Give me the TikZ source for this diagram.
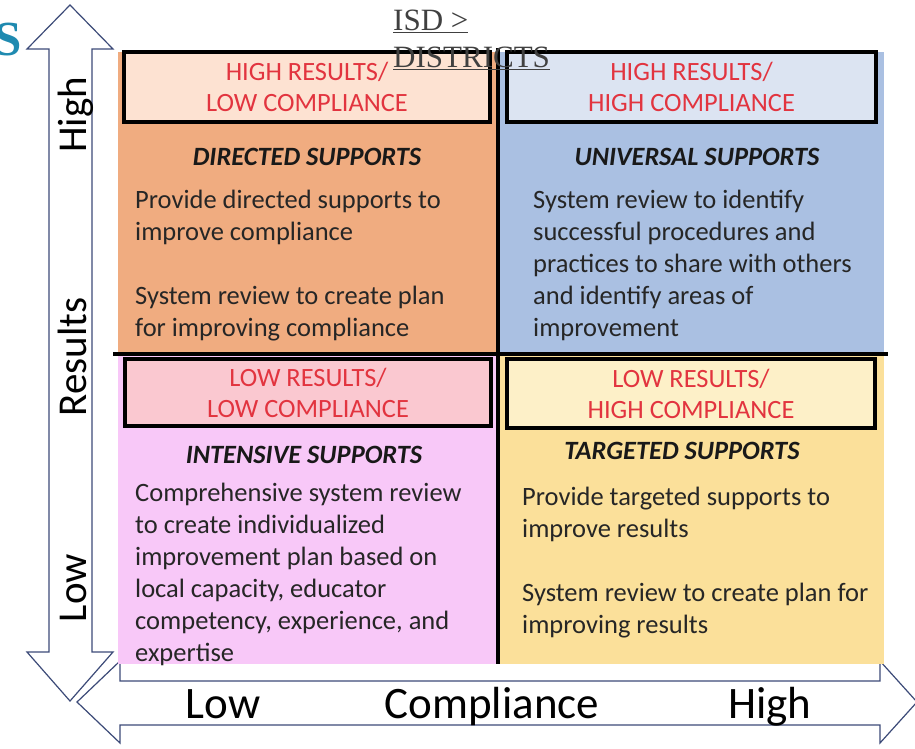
\documentclass[tikz,border=0pt]{standalone}
\usepackage{fontspec}
\setmainfont{Carlito}
\newfontfamily\serifish{Liberation Serif}
\definecolor{arrowline}{HTML}{3C4A78}
\definecolor{redtxt}{HTML}{E2343F}
\definecolor{bodyink}{HTML}{262626}
\definecolor{tlbody}{HTML}{F0AC80}
\definecolor{tlhead}{HTML}{FDE2D2}
\definecolor{trbody}{HTML}{AAC0E2}
\definecolor{trhead}{HTML}{DCE4F2}
\definecolor{blbody}{HTML}{F8C8F8}
\definecolor{blhead}{HTML}{FAC8D0}
\definecolor{brbody}{HTML}{FBE09A}
\definecolor{brhead}{HTML}{FDF0C8}
\definecolor{isdgray}{HTML}{404040}
\definecolor{steal}{HTML}{1F8AB0}
\begin{document}
\begin{tikzpicture}[x=1pt,y=-1pt,
  bigarrow/.style={draw=arrowline,fill=white,line width=1.2pt,line join=miter},
  hdr/.style={draw=black,line width=4pt,text=redtxt,align=center,inner sep=0pt,
    font=\fontsize{26.4}{31}\selectfont},
  ttl/.style={inner sep=0pt,text=black!90,font=\fontsize{26.4}{32}\selectfont\bfseries\itshape},
  bodytxt/.style={inner sep=0pt,align=left,text=bodyink,font=\fontsize{26.5}{32}\selectfont},
  yaxl/.style={inner sep=0pt,rotate=90,anchor=base,text=black,font=\fontsize{41}{48}\selectfont},
  xaxl/.style={inner sep=0pt,anchor=base,text=black,font=\fontsize{45}{52}\selectfont},
  divider/.style={line width=4pt,black}]
\useasboundingbox (0,0) rectangle (915,748);
\fill[white] (0,0) rectangle (915,748);

% axis arrows
\draw[bigarrow] (70,5) -- (113,49) -- (92,49) -- (92,652) -- (113,652) -- (70,701)
  -- (27,652) -- (49,652) -- (49,49) -- (27,49) -- cycle;
\draw[bigarrow] (77,702) -- (120,661) -- (120,681) -- (880,681) -- (880,661) -- (917,702)
  -- (880,743) -- (880,725) -- (120,725) -- (120,743) -- cycle;

% quadrant fills
\fill[tlbody] (118,52) rectangle (497,354);
\fill[trbody] (497,52) rectangle (884,354);
\fill[blbody] (118,354) rectangle (497,664);
\fill[brbody] (497,354) rectangle (884,664);

% dividers
\coordinate (hl) at (113,354);
\coordinate (hr) at (888,354);
\coordinate (vt) at (497.5,48);
\coordinate (vb) at (497.5,664);
\draw[divider] (hl) -- (hr);
\draw[divider] (vt) -- (vb);

% header boxes
\node[hdr,fill=tlhead,minimum width=366,minimum height=70] (tlh) at (307,87) {HIGH RESULTS/\\LOW COMPLIANCE};
\node[hdr,fill=trhead,minimum width=369,minimum height=70] (trh) at (691.5,87) {HIGH RESULTS/\\HIGH COMPLIANCE};
\node[hdr,fill=blhead,minimum width=366,minimum height=67] (blh) at (308,392.5) {LOW RESULTS/\\LOW COMPLIANCE};
\node[hdr,fill=brhead,minimum width=368,minimum height=69] (brh) at (691,393.5) {LOW RESULTS/\\HIGH COMPLIANCE};

% titles
\node[ttl,anchor=base] (tlt) at (307,165) {DIRECTED SUPPORTS};
\node[ttl,anchor=base] (trt) at (697,165) {UNIVERSAL SUPPORTS};
\node[ttl,anchor=base] (blt) at (304,463) {INTENSIVE SUPPORTS};
\node[ttl,anchor=base] (brt) at (682,459) {TARGETED SUPPORTS};

% body texts (anchored at the baseline of the last line)
\node[bodytxt,anchor=base west] (tlb) at (135,336) {Provide directed supports to\\improve compliance\\[32pt]System review to create plan\\for improving compliance};
\node[bodytxt,anchor=base west] (trb) at (533,336) {System review to identify\\successful procedures and\\practices to share with others\\and identify areas of\\improvement};
\node[bodytxt,anchor=base west] (blb) at (135,661) {Comprehensive system review\\to create individualized\\improvement plan based on\\local capacity, educator\\competency, experience, and\\expertise};
\node[bodytxt,anchor=base west] (brb) at (522,633) {Provide targeted supports to\\improve results\\[32pt]System review to create plan for\\improving results};

% axis labels
\node[yaxl] (yhigh) at (86,115) {High};
\node[yaxl] (yres) at (86,357) {Results};
\node[yaxl] (ylow) at (86,588) {Low};
\node[xaxl] (xlow) at (223,718) {Low};
\node[xaxl] (xcomp) at (492,718) {Compliance};
\node[xaxl] (xhigh) at (770,718) {High};

% overlay texts
\node[inner sep=0pt,anchor=base west,align=left,text=isdgray,font=\serifish\fontsize{31}{37}\selectfont] (isd) at (393,67) {\underline{ISD >}\\\underline{DISTRICTS}};
\node[inner sep=0pt,anchor=base west,text=steal,font=\serifish\bfseries\fontsize{49}{56}\selectfont] (sletter) at (-6,55) {S};
\end{tikzpicture}
\end{document}
